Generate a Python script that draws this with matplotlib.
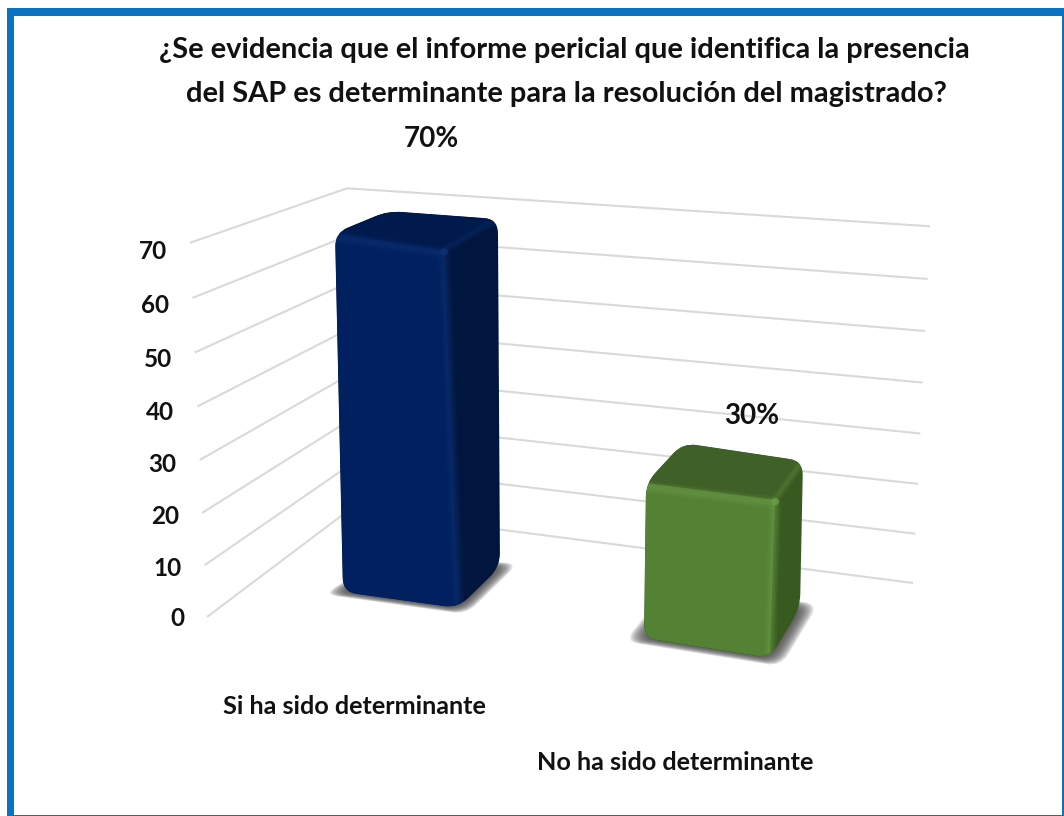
import numpy as np
import matplotlib
matplotlib.use("Agg")
import matplotlib.pyplot as plt
from matplotlib.path import Path
from matplotlib.patches import PathPatch, Rectangle

# ---- data ----
title_lines = ["¿Se evidencia que el informe pericial que identifica la presencia",
               "del SAP es determinante para la resolución del magistrado?"]
categories = ["Si ha sido determinante", "No ha sido determinante"]
values = [70, 30]
value_labels = ["70%", "30%"]
tick_values = [0, 10, 20, 30, 40, 50, 60, 70]
tick_labels = ["0", "10", "20", "30", "40", "50", "60", "70"]

# ---- style / layout (pixel space of the picture) ----
FONT = "Lato"
GRID = "#d9d9d9"
W, H = 1064, 816
front_cols = ["#00205f", "#548235"]
side_cols = ["#00163f", "#38591f"]
top_cols = ["#001a4e", "#3f6026"]
bevel_cols = ["#0f3378", "#6c9e48"]
# base corners per bar: front-left, front-right, back-right, back-left
bases = [np.array([[343, 592], [458, 608], [500, 567], [392, 561]], float),
         np.array([[644, 638], [770, 658], [800, 608], [682, 590]], float)]
# corner movement per unit of value
rises = [np.array([[-.114, -5.13], [-.2, -5.11], [-.03, -4.97], [-.057, -5.0]]),
         np.array([[.067, -5.17], [.17, -5.27], [.1, -4.9], [.03, -4.9]])]
value_label_xy = [(431, 139), (752, 416)]
category_xy = [(354, 707), (675, 763)]


def wall(v):
    """Projected gridline corners for value v: front-left, back, right."""
    fy = 617 - 5.15 * v - 0.0028 * v ** 2
    fx = 207 - v * 17 / 70
    by = 510 - 4.4 * v - 0.0028 * v ** 2
    bx = 349 - v * 2 / 70
    ry = 583 - 4.9 * v - 0.0028 * v ** 2
    rx = 913 + v * 17 / 70
    return [fx, bx, rx], [fy, by, ry]


def rounded(pts, r):
    pts = np.asarray(pts, float)
    n = len(pts)
    verts, codes = [], []
    for i in range(n):
        p, a, b = pts[i], pts[i - 1], pts[(i + 1) % n]
        s = p + (a - p) / np.linalg.norm(a - p) * min(r, np.linalg.norm(a - p) / 2)
        e = p + (b - p) / np.linalg.norm(b - p) * min(r, np.linalg.norm(b - p) / 2)
        verts += [s, p, e]
        codes += [Path.MOVETO if i == 0 else Path.LINETO, Path.CURVE3, Path.CURVE3]
    verts.append(verts[0])
    codes.append(Path.CLOSEPOLY)
    return Path(verts, codes)


fig = plt.figure(figsize=(W / 100, H / 100), dpi=100, facecolor="white")
ax = fig.add_axes([0, 0, 1, 1])
ax.set_xlim(0, W)
ax.set_ylim(H, 0)
ax.axis("off")

# frame
for x0, y0, w, h in [(7, 8, 7, 808), (7, 8, 1057, 8), (1062, 8, 2, 808), (7, 814.5, 1057, 1.5)]:
    ax.add_patch(Rectangle((x0, y0), w, h, fc="#0a72c2", ec="none", zorder=1))

# gridlines and tick labels
for v, lab in zip(tick_values, tick_labels):
    xs, ys = wall(v)
    ax.plot(xs, ys, color=GRID, lw=1.5, solid_capstyle="butt", zorder=2)
    ax.text(xs[0] - 23, ys[0] + 2 + 7 * v / 70, lab, ha="right", va="center",
            fontsize=17.5, fontweight="bold", family=FONT, color="#111111", zorder=6)

# bars
for i, v in enumerate(values):
    base, rise = bases[i], rises[i]
    top = base + rise * v
    FLb, FRb, BRb, BLb = base
    FLt, FRt, BRt, BLt = top
    # soft shadow
    c = base.mean(axis=0)
    for s in np.linspace(1.24, 1.02, 10):
        ax.add_patch(PathPatch(rounded(c + (base - c) * s, 14), fc="#444444", ec="none",
                               alpha=0.16, zorder=3))
    sil = rounded([FLt, BLt, BRt, BRb, FRb, FLb], 14)
    pp = PathPatch(sil, fc=side_cols[i], ec="none", zorder=4)
    ax.add_patch(pp)
    clip = PathPatch(sil, transform=ax.transData)
    t = ax.add_patch(PathPatch(Path(np.vstack([FLt, BLt, BRt, FRt, FLt]), closed=True),
                               fc=top_cols[i], ec="none", zorder=4.1))
    t.set_clip_path(clip)
    f = ax.add_patch(PathPatch(Path(np.vstack([FLt, FRt, FRb, FLb, FLt]), closed=True),
                               fc=front_cols[i], ec="none", zorder=4.2))
    f.set_clip_path(clip)
    # bevels along the edges
    for lw, a in zip([9, 6, 3.5], [.14, .18, .22]):
        for seg in ([FLt + [0, 4], FRt + [0, 3]], [FRt, FRb + [0, -4]]):
            seg = np.array(seg)
            l, = ax.plot(seg[:, 0], seg[:, 1], color=bevel_cols[i], lw=lw, alpha=a,
                         solid_capstyle="butt", zorder=4.3)
            l.set_clip_path(clip)
    for lw, a in zip([6, 3], [.14, .18]):
        seg = np.array([FRt, BRt])
        l, = ax.plot(seg[:, 0], seg[:, 1], color=bevel_cols[i], lw=lw, alpha=a, zorder=4.3)
        l.set_clip_path(clip)
    ax.plot([FRt[0]], [FRt[1] + 1], "o", ms=5, color=bevel_cols[i], mec="none", alpha=.8, zorder=4.4)
    ax.text(*value_label_xy[i], value_labels[i], ha="center", va="center", fontsize=20,
            fontweight="bold", family=FONT, color="#111111", zorder=6)
    ax.text(*category_xy[i], categories[i], ha="center", va="center", fontsize=18.2,
            fontweight="bold", family=FONT, color="#111111", zorder=6)

# title
for line, x, y in zip(title_lines, [564.5, 566.5], [50, 94]):
    ax.text(x, y, line, ha="center", va="center", fontsize=20.9,
            fontweight="bold", family=FONT, color="#111111", zorder=6)

fig.savefig("out.png", dpi=100, facecolor="white")
